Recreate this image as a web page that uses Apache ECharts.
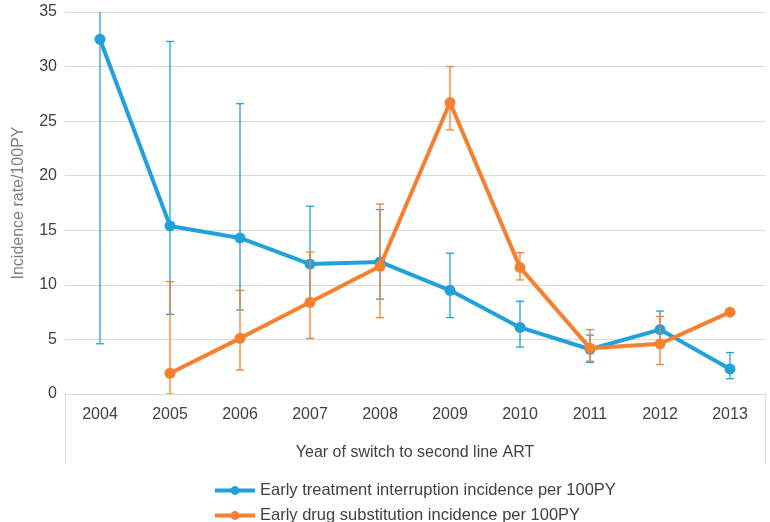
<!DOCTYPE html>
<html><head><meta charset="utf-8">
<script src="https://cdn.jsdelivr.net/npm/echarts@6/dist/echarts.min.js"></script>
<style>html,body{margin:0;padding:0;background:#fff}#c{width:770px;height:522px}</style>
</head><body><div id="c"></div>
<script>
const years = ['2004','2005','2006','2007','2008','2009','2010','2011','2012','2013'];
const interruption = [32.5, 15.4, 14.3, 11.9, 12.1, 9.5, 6.1, 4.1, 5.9, 2.3];
const interruptionLow = [4.6, 7.3, 7.7, 8.4, 8.7, 7.0, 4.3, 2.9, 4.4, 1.4];
const interruptionHigh = [62, 32.3, 26.6, 17.2, 16.9, 12.9, 8.5, 5.4, 7.6, 3.8];
const substitution = [null, 1.9, 5.1, 8.4, 11.7, 26.7, 11.6, 4.2, 4.6, 7.5];
const substitutionLow = [null, 0, 2.2, 5.1, 7.0, 24.2, 10.45, 3.0, 2.7, null];
const substitutionHigh = [null, 10.3, 9.5, 13.0, 17.4, 30.0, 12.95, 5.9, 7.1, null];
const yTicks = [0, 5, 10, 15, 20, 25, 30, 35];
const seriesNames = ['Early treatment interruption incidence per 100PY', 'Early drug substitution incidence per 100PY'];

const BLUE = '#21a0da', ORANGE = '#f5802f';
const FONT = 'Liberation Sans';

function errData(lo, hi) {
  const out = [];
  lo.forEach((l, i) => { if (l !== null && hi[i] !== null) out.push([i, l, hi[i]]); });
  return out;
}
function errRender(color) {
  return function (params, api) {
    const x = api.value(0);
    const lo = api.coord([x, api.value(1)]);
    const hi = api.coord([x, api.value(2)]);
    const w = 4;
    const style = { stroke: color, lineWidth: 1.3 };
    return {
      type: 'group',
      children: [
        { type: 'line', shape: { x1: lo[0], y1: lo[1], x2: hi[0], y2: hi[1] }, style },
        { type: 'line', shape: { x1: lo[0] - w, y1: lo[1], x2: lo[0] + w, y2: lo[1] }, style },
        { type: 'line', shape: { x1: hi[0] - w, y1: hi[1], x2: hi[0] + w, y2: hi[1] }, style }
      ]
    };
  };
}

const legendBase = {
  left: 208, itemWidth: 40, itemHeight: 11, itemGap: 6,
  lineStyle: { width: 4 },
  textStyle: { color: '#404040', fontSize: 16.5, fontFamily: FONT }
};

const chart = echarts.init(document.getElementById('c'), null, { renderer: 'canvas' });
chart.setOption({
  animation: false,
  textStyle: { fontFamily: FONT },
  grid: [
    { left: 65, right: 5, top: 12, bottom: 128 },
    { left: 65, right: 5, top: 394, height: 70 }
  ],
  xAxis: [
    {
      type: 'category', data: years, gridIndex: 0, boundaryGap: true,
      axisLine: { lineStyle: { color: '#d9d9d9', width: 1 } },
      axisTick: { show: false },
      axisLabel: { color: '#404040', fontSize: 16, margin: 13, fontFamily: FONT },
      name: 'Year of switch to second line ART', nameLocation: 'middle', nameGap: 51,
      nameTextStyle: { color: '#404040', fontSize: 16, fontFamily: FONT }
    },
    { type: 'value', gridIndex: 1, show: false }
  ],
  yAxis: [
    {
      type: 'value', gridIndex: 0, min: 0, max: 35, interval: 5,
      axisLine: { show: false }, axisTick: { show: false },
      splitLine: { lineStyle: { color: '#d9d9d9', width: 1 } },
      axisLabel: { color: '#404040', fontSize: 16, margin: 8, fontFamily: FONT,
        formatter: v => yTicks.includes(v) ? String(v) : '' },
      name: 'Incidence rate/100PY', nameLocation: 'middle', nameGap: 38, nameRotate: 90,
      nameTextStyle: { color: '#7f7f7f', fontSize: 16, fontFamily: FONT }
    },
    { type: 'value', gridIndex: 1, position: 'left', axisLine: { show: true, onZero: false, lineStyle: { color: '#d9d9d9' } },
      axisTick: { show: false }, axisLabel: { show: false }, splitLine: { show: false } },
    { type: 'value', gridIndex: 1, position: 'right', axisLine: { show: true, onZero: false, lineStyle: { color: '#d9d9d9' } },
      axisTick: { show: false }, axisLabel: { show: false }, splitLine: { show: false } }
  ],
  legend: [
    Object.assign({}, legendBase, { top: 477, data: [seriesNames[0]] }),
    Object.assign({}, legendBase, { top: 502, data: [seriesNames[1]] })
  ],
  series: [
    {
      name: 'blueErr', type: 'custom', xAxisIndex: 0, yAxisIndex: 0, clip: true, z: 1,
      renderItem: errRender(BLUE), data: errData(interruptionLow, interruptionHigh), silent: true
    },
    {
      name: 'orangeErr', type: 'custom', xAxisIndex: 0, yAxisIndex: 0, clip: true, z: 3,
      renderItem: errRender(ORANGE), data: errData(substitutionLow, substitutionHigh), silent: true
    },
    {
      name: seriesNames[0], type: 'line', z: 2,
      data: interruption, symbol: 'circle', symbolSize: 11, color: BLUE,
      lineStyle: { width: 4, color: BLUE }, itemStyle: { color: BLUE }
    },
    {
      name: seriesNames[1], type: 'line', z: 4,
      data: substitution, symbol: 'circle', symbolSize: 11, color: ORANGE,
      lineStyle: { width: 4, color: ORANGE }, itemStyle: { color: ORANGE }
    }
  ]
});
</script></body></html>
